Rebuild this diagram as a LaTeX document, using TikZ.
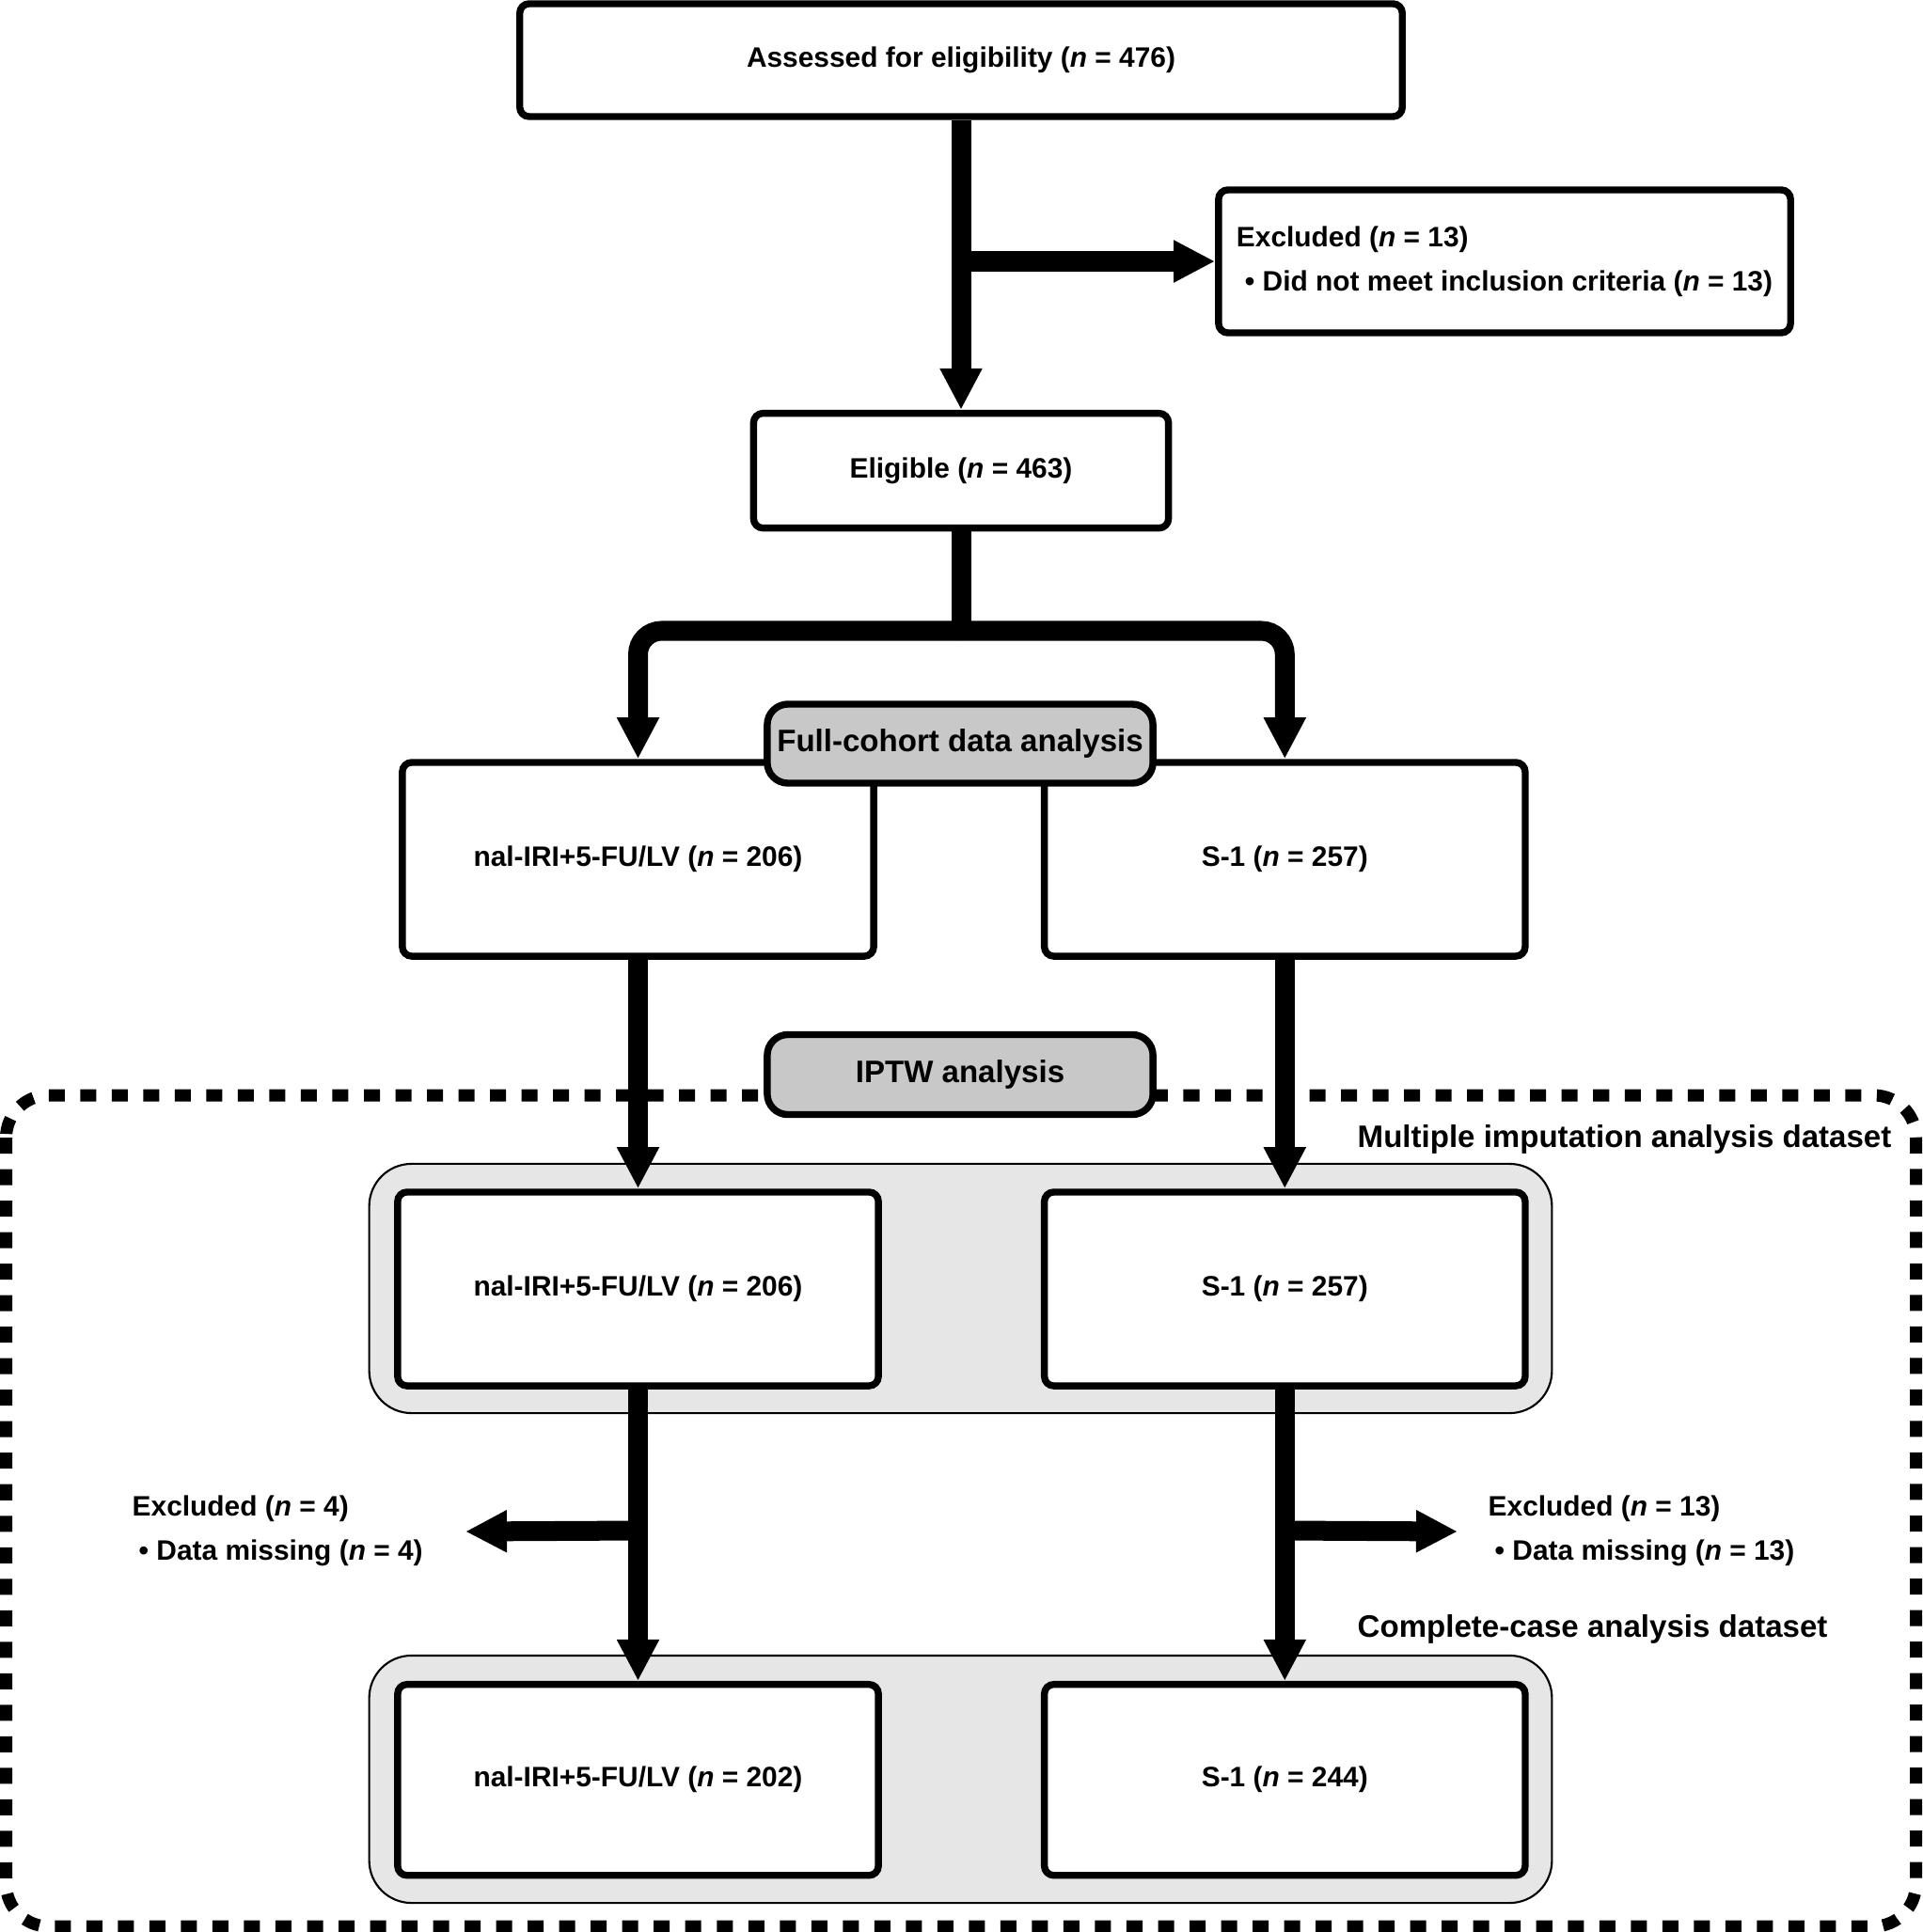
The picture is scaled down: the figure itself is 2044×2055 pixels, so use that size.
\documentclass[tikz,border=0pt]{standalone}
\usepackage{fontspec}
\setmainfont{Liberation Sans}
\usetikzlibrary{arrows.meta,positioning}
\definecolor{taggray}{HTML}{C8C8C8}
\definecolor{panelgray}{HTML}{E6E6E6}

\begin{document}
\begin{tikzpicture}[x=0.01cm, y=-0.01cm,
	main/.style = {draw, line width=2.1pt, rounded corners=0.1cm, fill=white, align=center, inner sep=0pt, font=\bfseries\fontsize{8.5}{13.4}\selectfont},
	tag/.style = {main, fill=taggray, rounded corners=0.22cm, minimum width=4.1cm, minimum height=0.84cm, font=\bfseries\fontsize{9.4}{11}\selectfont},
	panel/.style = {draw, line width=0.6pt, fill=panelgray, rounded corners=0.45cm, minimum width=12.57cm},
	note/.style = {align=left, inner sep=0pt, font=\bfseries\fontsize{8.5}{13.4}\selectfont},
	flow/.style = {line width=0.21cm, -{Triangle[length=0.44cm, width=0.42cm]}}]
	\useasboundingbox (0,0) rectangle (2044,2055);
	\draw[line width=0.13cm, dash pattern=on 0.17cm off 0.165cm, rounded corners=0.45cm] (6.5,1165) rectangle (2037.5,2049);
	\node[panel, minimum height=2.65cm] (miPanel) at (1021.5,1370.5) {};
	\node[panel, minimum height=2.63cm] (ccPanel) at (1021.5,1892.5) {};

	\node[main, minimum width=9.38cm, minimum height=1.2cm] (assess) at (1022,64) {Assessed for eligibility (\textit{n} = 476)};
	\node[main, align=left, minimum width=6.08cm, minimum height=1.52cm] (excl) at (1600,278) {Excluded (\textit{n} = 13)\\\hspace{0.09cm}\textbullet{} Did not meet inclusion criteria (\textit{n} = 13)};
	\node[main, minimum width=4.41cm, minimum height=1.22cm] (elig) [below=3.08cm of assess] {Eligible (\textit{n} = 463)};
	\node[main, minimum width=5.01cm, minimum height=2.06cm] (nalA) at (678.5,914) {nal-IRI+5-FU/LV (\textit{n} = 206)};
	\node[main, minimum width=5.11cm, minimum height=2.06cm] (soA) [right=1.74cm of nalA] {S-1 (\textit{n} = 257)};
	\node[main, minimum width=5.11cm, minimum height=2.06cm] (nalB) at (678.5,1371) {nal-IRI+5-FU/LV (\textit{n} = 206)};
	\node[main, minimum width=5.11cm, minimum height=2.06cm] (soB) [right=1.69cm of nalB] {S-1 (\textit{n} = 257)};
	\node[main, minimum width=5.11cm, minimum height=2.03cm] (nalC) [below=3.10cm of nalB] {nal-IRI+5-FU/LV (\textit{n} = 202)};
	\node[main, minimum width=5.11cm, minimum height=2.03cm] (soC) [right=1.69cm of nalC] {S-1 (\textit{n} = 244)};

	\node[note, anchor=west] (exclA) at (140,1628) {Excluded (\textit{n} = 4)\\\hspace{0.07cm}\textbullet{} Data missing (\textit{n} = 4)};
	\node[note, anchor=west] (exclB) at (1582,1628) {Excluded (\textit{n} = 13)\\\hspace{0.07cm}\textbullet{} Data missing (\textit{n} = 13)};
	\node[note, anchor=west, font=\bfseries\fontsize{9.4}{11}\selectfont] (miLabel) at (1443,1212) {Multiple imputation analysis dataset};
	\node[note, anchor=west, font=\bfseries\fontsize{9.4}{11}\selectfont] (ccLabel) at (1443,1733) {Complete-case analysis dataset};
	\coordinate (fork) at (1022,671);
	\coordinate (tipA) at (495,1629);
	\coordinate (tipB) at (1550,1629);

	\draw[flow] (assess) -- (elig);
	\draw[flow] (assess.south |- excl.west) -- (excl.west);
	\draw[line width=0.21cm] (elig) -- (fork);
	\draw[flow, rounded corners=0.25cm] (fork) -| (nalA);
	\draw[flow, rounded corners=0.25cm] (fork) -| (soA);
	\draw[flow] (nalA) -- (nalB);
	\draw[flow] (soA) -- (soB);
	\draw[flow] (nalB) -- (nalC);
	\draw[flow] (soB) -- (soC);
	\draw[flow] (nalB.south |- exclA) -- (tipA);
	\draw[flow] (soB.south |- exclB) -- (tipB);

	\node[tag] (fullTag) at (1021,791) {Full-cohort data analysis};
	\node[tag, minimum height=0.85cm] (iptwTag) at (1021,1143) {IPTW analysis};
\end{tikzpicture}
\end{document}
